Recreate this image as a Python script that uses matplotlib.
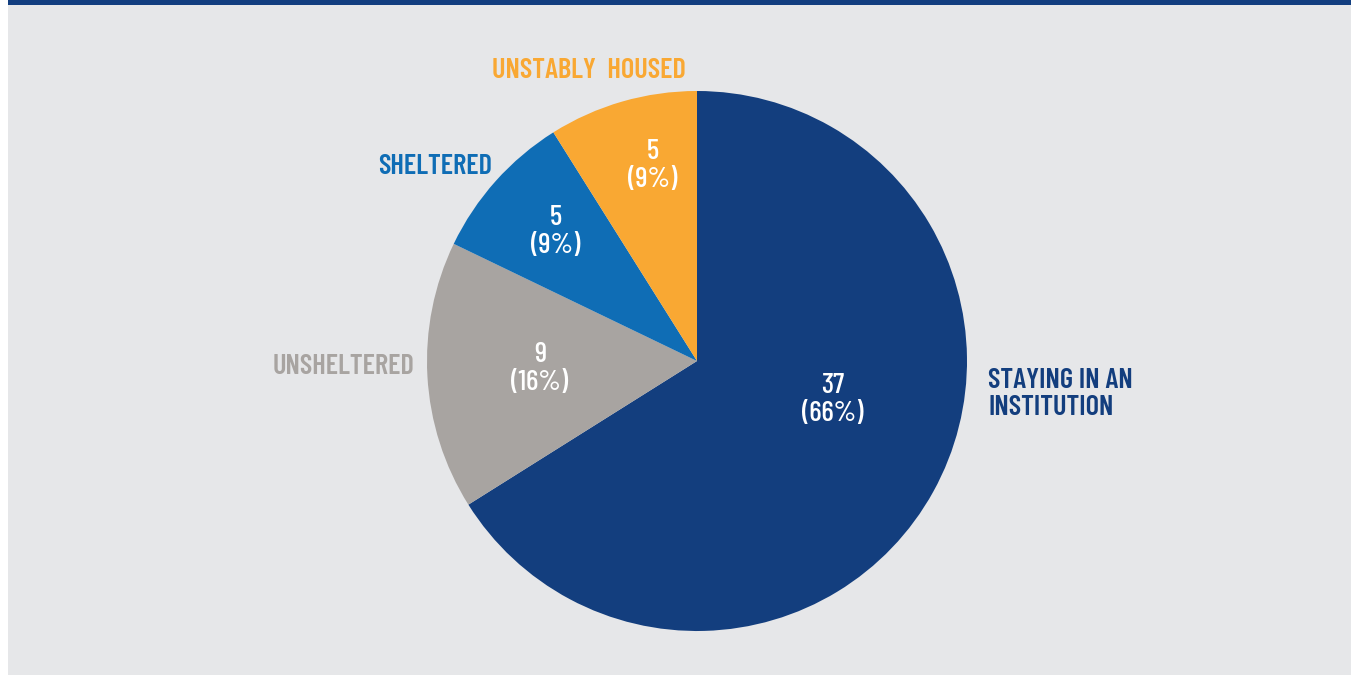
import matplotlib
matplotlib.use("Agg")
import matplotlib.pyplot as plt
from matplotlib.patches import Rectangle

# data
categories = ["STAYING IN AN\nINSTITUTION", "UNSHELTERED", "SHELTERED", "UNSTABLY  HOUSED"]
counts = [37, 9, 5, 5]
colors = ["#133E7E", "#A8A4A1", "#0F6DB5", "#F9A833"]

# layout (pixel coords, y from top)
W, H = 1353, 675
center_px = (697, 361)
radius_px = 270
inner_pos = [(833, 400), (540, 369), (556, 232), (653, 166)]
outer_pos = [(988, 394, "left"), (415, 366, "right"), (492, 166, "right"), (686, 70, "right")]

fam = ["Barlow Condensed", "Roboto Condensed", "Liberation Sans Narrow", "DejaVu Sans"]

fig = plt.figure(figsize=(W / 100, H / 100), dpi=100)
fig.patch.set_facecolor("white")
ax = fig.add_axes([0, 0, 1, 1])

ax.add_patch(Rectangle((8, 0), 1343, H, facecolor="#E6E7E9", edgecolor="none", zorder=0))
ax.add_patch(Rectangle((8, 0), 1343, 5, facecolor="#123E80", edgecolor="none", zorder=1))

total = sum(counts)
# y axis is inverted below, so counterclock=True ends up clockwise on screen; -90 = top
ax.pie(counts, colors=colors, startangle=-90, counterclock=True,
       center=center_px, radius=radius_px, frame=True,
       wedgeprops=dict(linewidth=0, zorder=2))
ax.set_xlim(0, W)
ax.set_ylim(H, 0)
ax.set_aspect("equal")
ax.axis("off")

for (x, y), c in zip(inner_pos, counts):
    ax.text(x, y, f"{c}\n({round(c / total * 100)}%)", ha="center", va="center",
            color="white", fontsize=21, family=fam, fontweight="medium",
            linespacing=1.08, zorder=3)

for (x, y, ha), lab, col in zip(outer_pos, categories, colors):
    ax.text(x, y, lab, ha=ha, va="center", color=col, fontsize=20.5,
            fontweight="semibold", family=fam, linespacing=1.1, zorder=3)

fig.savefig("out.png", dpi=100)
